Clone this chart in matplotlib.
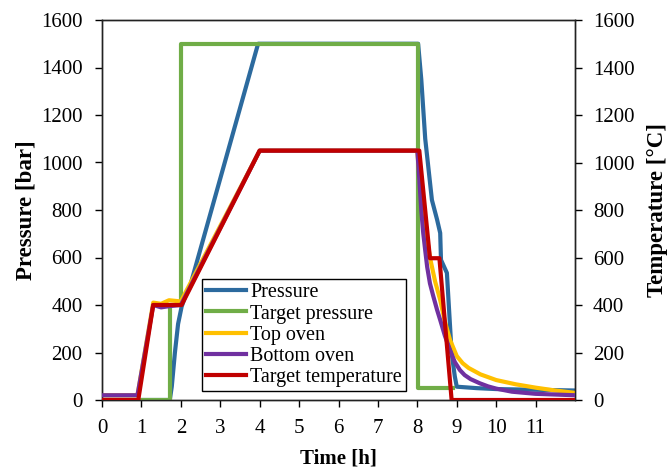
import matplotlib
matplotlib.use("Agg")
import matplotlib.pyplot as plt

plt.rcParams['font.family'] = ['Liberation Serif', 'DejaVu Serif']
plt.rcParams['font.size'] = 15

# Pressure (measured) [bar]
p_t = [0, 1.72, 1.77, 1.85, 1.93, 2.02, 2.12, 2.23, 3.96, 8.02, 8.1, 8.2, 8.37,
       8.5, 8.58, 8.6, 8.75, 8.87, 8.95, 9.0, 9.5, 10.0, 11.0, 12.0]
p_v = [0, 0, 56, 200, 320, 393, 440, 477, 1500, 1500, 1350, 1100, 842,
       760, 703, 590, 535, 198, 100, 56, 50, 46, 43, 40]

# Target pressure [bar]
tp_t = [0, 1.73, 1.73, 2.0, 2.0, 8.02, 8.02, 8.9]
tp_v = [0, 0, 400, 400, 1500, 1500, 50, 50]

# Top oven [°C]
top_t = [0, 0.9, 1.3, 1.5, 1.7, 2.0, 4.0, 8.0, 8.05, 8.1, 8.2, 8.32, 8.45, 8.58,
         8.7, 8.83, 9.0, 9.15, 9.3, 9.6, 10.0, 10.5, 11.0, 11.5, 12.0]
top_v = [20, 20, 410, 405, 420, 415, 1050, 1050, 950, 860, 730, 600, 500, 421,
         330, 253, 185, 155, 135, 108, 84, 66, 52, 40, 30]

# Bottom oven [°C]
bot_t = [0, 0.9, 1.3, 1.5, 1.7, 2.0, 4.0, 8.0, 8.05, 8.1, 8.15, 8.2, 8.25, 8.32,
         8.4, 8.5, 8.58, 8.7, 8.83, 8.95, 9.08, 9.2, 9.35, 9.59, 9.8, 10.0,
         10.4, 11.0, 12.0]
bot_v = [20, 20, 400, 390, 395, 400, 1050, 1050, 930, 800, 702, 630, 560, 491,
         440, 380, 337, 270, 210, 160, 126, 105, 88, 70, 57, 48,
         35, 26, 20]

# Target temperature [°C]
tt_t = [0, 0.92, 1.3, 2.02, 4.0, 8.05, 8.32, 8.56, 8.87, 12.0]
tt_v = [0, 0, 400, 400, 1050, 1050, 597, 597, 0, 0]

fig = plt.figure(figsize=(6.7, 4.71), dpi=100)
ax = fig.add_axes([102/670, 1 - 400/471, 473/670, 380/471])
ax2 = ax.twinx()

lw = 3
l1, = ax.plot(p_t, p_v, color='#2C6A9E', lw=lw, label='Pressure', zorder=2)
l2, = ax.plot(tp_t, tp_v, color='#70AD47', lw=lw, label='Target pressure', zorder=3)
l3, = ax2.plot(top_t, top_v, color='#FFC000', lw=lw, label='Top oven', zorder=2)
l4, = ax2.plot(bot_t, bot_v, color='#7030A0', lw=lw, label='Bottom oven', zorder=3)
l5, = ax2.plot(tt_t, tt_v, color='#C00000', lw=lw, label='Target temperature', zorder=4)

ax.set_xlim(0, 12)
ax.set_ylim(0, 1600)
ax2.set_ylim(0, 1600)
ax.set_xticks(range(0, 12))
ax.set_yticks(range(0, 1601, 200))
ax2.set_yticks(range(0, 1601, 200))

ax.tick_params(axis='x', direction='out', length=5, width=1, pad=9)
ax.tick_params(axis='y', direction='out', length=5, width=1, pad=9)
ax2.tick_params(axis='y', direction='out', length=5, width=1, pad=8)

ax.set_xlabel('Time [h]', fontweight='bold', labelpad=7)
ax.set_ylabel('Pressure [bar]', fontweight='bold', fontsize=16.5, labelpad=3)
ax2.set_ylabel('Temperature [°C]', fontweight='bold', fontsize=16.5, labelpad=9)

for a in (ax, ax2):
    for s in a.spines.values():
        s.set_color('#222222')
        s.set_linewidth(1)

ax2.legend(handles=[l1, l2, l3, l4, l5], loc='lower left',
           bbox_to_anchor=(0.211, 0.024), borderaxespad=0,
           frameon=True, fancybox=False, edgecolor='black', framealpha=1,
           fontsize=14.5, handlelength=2.0, handletextpad=0.2,
           labelspacing=0.1, borderpad=0.2)
ax2.get_legend().get_frame().set_linewidth(1)

fig.savefig('out.png', dpi=100)
